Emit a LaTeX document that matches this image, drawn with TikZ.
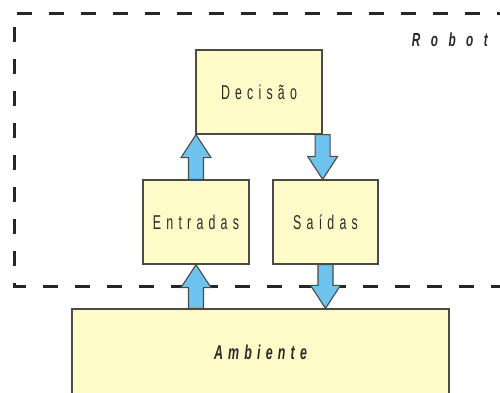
\documentclass[tikz,border=0pt]{standalone}
\usepackage{fontspec}
\setmainfont{Liberation Sans}
\newfontfamily\narrowsans[FakeStretch=0.62,LetterSpace=26]{Liberation Sans}
\newfontfamily\widesans[FakeStretch=0.62,LetterSpace=55]{Liberation Sans}
\usetikzlibrary{calc}
\definecolor{boxfill}{HTML}{FFFBC8}
\definecolor{boxline}{HTML}{4A4A46}
\definecolor{flowblue}{HTML}{6EC2EE}
\definecolor{labeltext}{HTML}{2A2A2A}

\tikzset{
  stage/.style={draw=boxline, line width=1.3pt, fill=boxfill, text=labeltext,
    inner sep=0pt, font=\narrowsans\fontsize{20}{24}\selectfont},
  blockarrow/.style={draw=boxline, line width=1.1pt, fill=flowblue, line join=miter},
  border/.style={draw=black!85, line width=3pt, dash pattern=on 15pt off 17pt},
  tag/.style={text=labeltext, inner sep=0pt, font=\widesans\bfseries\itshape\fontsize{19}{24}\selectfont}
}

% thick block arrow between two vertically aligned points
\newcommand{\flowarrow}[2]{%
  \filldraw[blockarrow] let \p1=(#1), \p2=(#2), \n1={ifthenelse(\y2>\y1,1,-1)} in
    (\x1-7.5pt,\y1) -- (\x1-7.5pt,\y2-\n1*23pt) -- (\x1-15pt,\y2-\n1*23pt) --
    (\x1,\y2) -- (\x1+15pt,\y2-\n1*23pt) -- (\x1+7.5pt,\y2-\n1*23pt) --
    (\x1+7.5pt,\y1) -- cycle;}

\begin{document}
\begin{tikzpicture}[x=1pt,y=-1pt]
  \useasboundingbox (0,0) rectangle (500,392);
  \clip (0,0) rectangle (500,392);

  % system boundary of the robot
  \draw[border] (512,13) -- (14,13) -- (14,286) -- (512,286);
  \node[tag, anchor=east] (robot) at (488,40) {Robot};

  % blocks
  \node[stage, minimum width=126pt, minimum height=84pt] (dec) at (259,92) {Decisão};
  \node[stage, minimum width=106pt, minimum height=84pt] (ent) at (196,222) {Entradas};
  \node[stage, minimum width=105pt, minimum height=84pt] (sai) at (325.5,222) {Saídas};
  \node[stage, minimum width=377pt, minimum height=86pt,
        font=\narrowsans\bfseries\itshape\fontsize{20}{24}\selectfont] (amb) at (260.5,352) {Ambiente};

  % information flow
  \flowarrow{ent.north}{dec.south -| ent.north}
  \flowarrow{dec.south east}{sai.north -| dec.south east}
  \flowarrow{amb.north -| ent.south}{ent.south}
  \flowarrow{sai.south}{amb.north -| sai.south}
\end{tikzpicture}
\end{document}
